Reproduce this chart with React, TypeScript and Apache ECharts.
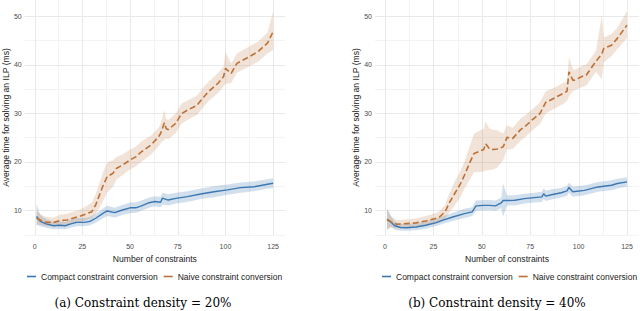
import React, { useEffect, useRef } from "react";
import * as echarts from "echarts";

// Axis ticks
const X_TICKS = [0, 25, 50, 75, 100, 125];
const X_MINOR = [12.5, 37.5, 62.5, 87.5, 112.5];
const Y_TICKS = [10, 20, 30, 40, 50];
const Y_MINOR = [5, 15, 25, 35, 45];

const SERIES_NAMES = ["Compact constraint conversion", "Naive constraint conversion"];
const CAPTIONS = ["(a) Constraint density = 20%", "(b) Constraint density = 40%"];
const X_TITLE = "Number of constraints";
const Y_TITLE = "Average time for solving an ILP (ms)";

// Panel (a): density 20%
const A_COMPACT_X = [1, 3, 6, 10, 13, 16, 19, 22, 26, 29, 32, 36, 38, 42, 46, 50, 53, 56, 60, 63, 66, 67, 70, 74, 80, 87, 94, 101, 108, 115, 122, 125];
const A_COMPACT_MEAN = [8.7, 7.7, 7.2, 6.8, 6.9, 6.8, 7.2, 7.5, 7.5, 7.7, 8.35, 9.4, 9.85, 9.5, 10.05, 10.5, 10.5, 10.9, 11.55, 11.8, 11.65, 12.5, 12.1, 12.45, 12.8, 13.35, 13.8, 14.2, 14.65, 14.85, 15.35, 15.55];
const A_COMPACT_LO = [7.0, 6.7, 6.4, 6.1, 6.2, 6.1, 6.4, 6.7, 6.7, 6.9, 7.4, 8.4, 8.8, 8.5, 9.0, 9.4, 9.5, 9.9, 10.5, 10.8, 10.6, 11.2, 11.0, 11.4, 11.7, 12.3, 12.7, 13.2, 13.6, 13.9, 14.4, 14.6];
const A_COMPACT_HI = [11.3, 9.0, 8.2, 7.6, 7.7, 7.6, 8.1, 8.4, 8.4, 8.6, 9.3, 10.4, 10.9, 10.5, 11.1, 11.6, 11.6, 12.0, 12.6, 12.9, 12.8, 13.6, 13.3, 13.6, 13.9, 14.5, 15.0, 15.3, 15.7, 15.9, 16.4, 16.6];

const A_NAIVE_X = [1, 3, 6, 10, 13, 17, 20, 24, 27, 30, 32, 34, 36, 38, 41, 43, 46, 50, 53, 56, 61, 65, 66, 68, 69, 70, 74, 77, 80, 85, 88, 91, 96, 99, 100, 103, 106, 111, 117, 122, 125];
const A_NAIVE_MEAN = [8.35, 8.0, 7.5, 7.5, 7.85, 8.0, 8.35, 8.8, 9.25, 9.7, 11.1, 13.15, 15.2, 16.9, 17.6, 18.65, 19.3, 20.35, 21.0, 22.05, 23.45, 25.15, 25.8, 28.0, 26.8, 26.6, 27.9, 29.9, 30.6, 31.6, 33.0, 34.4, 36.1, 37.5, 39.2, 38.2, 40.25, 41.3, 42.65, 44.4, 46.8];
const A_NAIVE_LO = [7.0, 7.0, 6.7, 6.7, 6.9, 7.0, 7.3, 7.6, 8.0, 8.4, 9.3, 10.5, 12.0, 13.6, 14.8, 16.4, 17.2, 18.4, 19.0, 20.0, 21.5, 23.2, 23.8, 24.5, 24.8, 24.6, 25.9, 27.8, 28.6, 29.6, 31.0, 32.4, 34.1, 35.5, 36.0, 36.2, 38.3, 39.3, 40.6, 42.3, 43.0];
const A_NAIVE_HI = [9.8, 9.2, 8.6, 8.5, 9.0, 9.3, 9.7, 10.1, 10.8, 11.6, 13.3, 15.6, 18.0, 19.8, 20.3, 21.0, 21.5, 22.5, 23.1, 24.2, 25.4, 27.0, 27.8, 30.6, 28.8, 28.6, 29.9, 32.0, 32.6, 33.6, 35.1, 36.4, 38.2, 39.6, 42.6, 40.2, 42.3, 43.4, 44.7, 46.6, 51.0];

// Panel (b): density 40%
const B_COMPACT_X = [1, 3, 5, 8, 11, 16, 21, 26, 30, 35, 41, 45, 47, 51, 54, 57, 60, 61, 63, 67, 72, 77, 81, 82, 83, 86, 91, 94, 95, 97, 103, 110, 117, 120, 125];
const B_COMPACT_MEAN = [8.1, 7.6, 6.8, 6.45, 6.4, 6.55, 6.9, 7.4, 7.95, 8.6, 9.3, 9.65, 10.9, 11.0, 11.0, 10.9, 11.5, 12.0, 12.0, 12.05, 12.4, 12.6, 12.75, 13.4, 12.9, 13.2, 13.6, 14.0, 14.7, 13.8, 14.1, 14.8, 15.15, 15.5, 15.85];
const B_COMPACT_LO = [6.0, 6.6, 6.0, 5.8, 5.8, 5.9, 6.2, 6.7, 7.2, 7.8, 8.4, 8.8, 9.9, 10.0, 10.0, 9.9, 10.4, 8.7, 11.0, 11.0, 11.4, 11.6, 11.7, 12.3, 11.9, 12.2, 12.6, 13.0, 13.6, 12.8, 13.1, 13.8, 14.1, 14.5, 14.9];
const B_COMPACT_HI = [10.3, 8.8, 7.6, 7.2, 7.1, 7.3, 7.7, 8.2, 8.8, 9.5, 10.3, 10.6, 12.0, 12.1, 12.1, 12.0, 12.6, 15.5, 13.1, 13.1, 13.4, 13.6, 13.8, 14.6, 14.0, 14.3, 14.6, 15.0, 15.7, 14.9, 15.1, 15.8, 16.2, 16.5, 16.8];

const B_NAIVE_X = [1, 3, 6, 11, 16, 21, 26, 28, 31, 33, 36, 39, 41, 44, 46, 49, 51, 52, 54, 56, 58, 61, 63, 66, 70, 73, 76, 80, 83, 87, 92, 94, 95, 97, 98, 102, 104, 109, 112, 113, 117, 120, 125];
const B_NAIVE_MEAN = [8.1, 7.6, 7.1, 7.25, 7.4, 7.8, 8.3, 8.6, 9.65, 11.4, 13.45, 15.5, 17.2, 20.0, 21.7, 22.2, 22.5, 23.7, 22.6, 22.5, 22.6, 23.05, 25.0, 24.8, 26.6, 27.5, 28.6, 29.9, 32.2, 33.0, 34.05, 34.5, 38.5, 36.8, 36.8, 37.6, 37.85, 40.7, 42.2, 43.3, 44.0, 45.4, 48.1];
const B_NAIVE_LO = [6.0, 6.5, 6.3, 6.4, 6.5, 6.8, 7.2, 7.4, 8.2, 9.5, 11.0, 12.8, 14.4, 16.5, 17.8, 17.9, 18.0, 18.2, 18.3, 18.4, 18.8, 20.3, 22.5, 22.6, 24.3, 25.3, 26.4, 27.7, 29.9, 30.8, 31.9, 32.5, 33.4, 34.5, 34.7, 35.4, 35.7, 38.5, 37.0, 40.5, 41.7, 43.2, 45.4];
const B_NAIVE_HI = [10.4, 8.8, 8.0, 8.1, 8.3, 8.8, 9.4, 9.8, 11.1, 13.3, 15.9, 18.2, 20.0, 23.5, 25.8, 26.4, 26.8, 28.3, 26.8, 26.6, 26.4, 25.8, 27.5, 27.0, 28.9, 29.7, 30.8, 32.2, 34.5, 35.2, 36.2, 36.5, 41.6, 39.1, 38.9, 39.8, 40.0, 42.9, 50.2, 45.6, 46.3, 47.6, 51.0];

const BLUE = "#3b78b3";
const ORANGE = "#bd7136";
const BLUE_FILL = "rgba(59,120,179,0.23)";
const ORANGE_FILL = "rgba(192,116,58,0.2)";
const SANS = "'Liberation Sans', Arial, Helvetica, sans-serif";

const PANELS = [
  {
    left: 21,
    caption: CAPTIONS[0],
    captionX: 143,
    legendLeft: 27,
    compact: { x: A_COMPACT_X, m: A_COMPACT_MEAN, lo: A_COMPACT_LO, hi: A_COMPACT_HI },
    naive: { x: A_NAIVE_X, m: A_NAIVE_MEAN, lo: A_NAIVE_LO, hi: A_NAIVE_HI },
  },
  {
    left: 375,
    caption: CAPTIONS[1],
    captionX: 497,
    legendLeft: 382,
    compact: { x: B_COMPACT_X, m: B_COMPACT_MEAN, lo: B_COMPACT_LO, hi: B_COMPACT_HI },
    naive: { x: B_NAIVE_X, m: B_NAIVE_MEAN, lo: B_NAIVE_LO, hi: B_NAIVE_HI },
  },
];

function gridSeries(idx: number) {
  return {
    type: "custom",
    xAxisIndex: idx,
    yAxisIndex: idx,
    silent: true,
    z: 0,
    clip: false,
    data: [[X_TICKS[0], Y_TICKS[0]]],
    renderItem: (params: any, api: any) => {
      const cs = params.coordSys;
      const children: any[] = [];
      const vline = (v: number, color: string) => {
        const px = Math.round(api.coord([v, Y_TICKS[0]])[0]) + 0.5;
        children.push({ type: "line", shape: { x1: px, y1: cs.y, x2: px, y2: cs.y + cs.height }, style: { stroke: color, lineWidth: 1 } });
      };
      const hline = (v: number, color: string) => {
        const py = Math.round(api.coord([X_TICKS[0], v])[1]) + 0.5;
        children.push({ type: "line", shape: { x1: cs.x, y1: py, x2: cs.x + cs.width, y2: py }, style: { stroke: color, lineWidth: 1 } });
      };
      X_MINOR.forEach((v) => vline(v, "#f3f3f3"));
      Y_MINOR.forEach((v) => hline(v, "#f3f3f3"));
      X_TICKS.forEach((v) => vline(v, "#e9e9e9"));
      Y_TICKS.forEach((v) => hline(v, "#e9e9e9"));
      return { type: "group", children };
    },
  };
}

function ribbon(idx: number, d: any, fill: string) {
  return {
    type: "custom",
    xAxisIndex: idx,
    yAxisIndex: idx,
    silent: true,
    z: 2,
    data: d.x.map((x: number, i: number) => [x, d.lo[i], d.hi[i]]),
    encode: { x: 0, y: [1, 2] },
    renderItem: (params: any, api: any) => {
      if (params.dataIndex !== 0) return null;
      const up = d.x.map((x: number, i: number) => api.coord([x, d.hi[i]]));
      const dn = d.x.map((x: number, i: number) => api.coord([x, d.lo[i]])).reverse();
      return { type: "polygon", shape: { points: up.concat(dn) }, style: { fill } };
    },
  };
}

function meanLine(idx: number, name: string, d: any, color: string, dashed: boolean) {
  return {
    type: "line",
    name,
    xAxisIndex: idx,
    yAxisIndex: idx,
    symbol: "none",
    showSymbol: false,
    itemStyle: { color },
    lineStyle: { color, width: dashed ? 1.6 : 1.4, type: dashed ? [6, 3] : "solid" },
    data: d.x.map((x: number, i: number) => [x, d.m[i]]),
    z: 3,
  };
}

export default function App() {
  const ref = useRef<HTMLDivElement>(null);
  useEffect(() => {
    document.body.style.margin = "0";
    document.body.style.overflow = "hidden";
    const chart = echarts.init(ref.current!, undefined, { renderer: "svg" });
    const grids = PANELS.map((p) => ({ left: p.left, top: 0, width: 264, height: 235 }));
    const xAxes = PANELS.map((p, i) => ({
      type: "value",
      gridIndex: i,
      min: -5.2,
      max: 131.2,
      axisLine: { show: false },
      axisTick: { show: false },
      splitLine: { show: false },
      axisLabel: { customValues: X_TICKS, color: "#4d4d4d", fontSize: 7, margin: 8, fontFamily: SANS },
      name: X_TITLE,
      nameLocation: "middle",
      nameGap: 17,
      nameTextStyle: { color: "#1a1a1a", fontSize: 8.6, fontFamily: SANS },
    }));
    const yAxes = PANELS.map((p, i) => ({
      type: "value",
      gridIndex: i,
      min: 4.9,
      max: 53.3,
      axisLine: { show: false },
      axisTick: { show: false },
      splitLine: { show: false },
      axisLabel: { customValues: Y_TICKS, color: "#4d4d4d", fontSize: 7, margin: 3, fontFamily: SANS },
      name: Y_TITLE,
      nameLocation: "middle",
      nameGap: 8,
      nameTextStyle: { color: "#1a1a1a", fontSize: 8.6, fontFamily: SANS },
    }));
    const series: any[] = [];
    PANELS.forEach((p, i) => {
      series.push(gridSeries(i));
      series.push(ribbon(i, p.compact, BLUE_FILL));
      series.push(ribbon(i, p.naive, ORANGE_FILL));
    });
    PANELS.forEach((p, i) => {
      series.push(meanLine(i, SERIES_NAMES[0], p.compact, BLUE, false));
      series.push(meanLine(i, SERIES_NAMES[1], p.naive, ORANGE, true));
    });
    const legends = PANELS.map((p) => ({
      left: p.legendLeft,
      top: 272,
      padding: 0,
      icon: "rect",
      itemWidth: 9,
      itemHeight: 1.6,
      itemGap: 6,
      selectedMode: false,
      data: SERIES_NAMES,
      textStyle: { fontSize: 8.5, color: "#1a1a1a", fontFamily: SANS },
    }));
    const graphic = PANELS.map((p) => ({
      type: "text",
      x: p.captionX,
      y: 303,
      silent: true,
      style: {
        text: p.caption,
        align: "center",
        verticalAlign: "middle",
        fontSize: 12,
        fontFamily: "'DejaVu Serif', 'Liberation Serif', serif",
        fill: "#000",
      },
    }));
    chart.setOption({
      animation: false,
      backgroundColor: "#ffffff",
      grid: grids,
      xAxis: xAxes,
      yAxis: yAxes,
      legend: legends,
      series,
      graphic,
    });
    return () => chart.dispose();
  }, []);
  return <div ref={ref} style={{ width: 640, height: 311 }} />;
}
